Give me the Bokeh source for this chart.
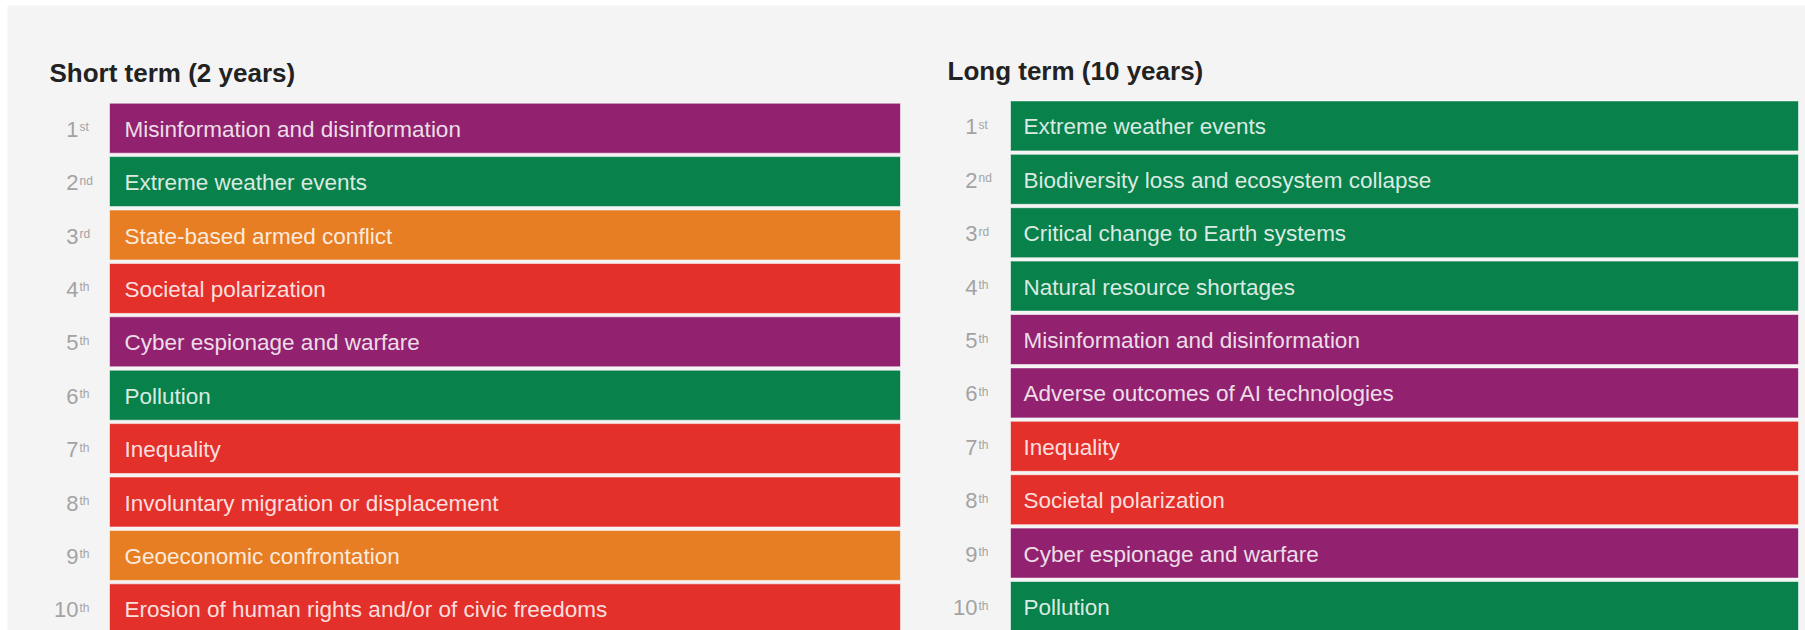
from bokeh.plotting import figure
from bokeh.layouts import row, column
from bokeh.models import Range1d, Label, ColumnDataSource, Spacer
from bokeh.core.properties import value
from bokeh.embed import file_html
from bokeh.resources import INLINE

# ---- data ----
ranks = [1, 2, 3, 4, 5, 6, 7, 8, 9, 10]
rank_suffixes = ["st", "nd", "rd", "th", "th", "th", "th", "th", "th", "th"]

short_term_title = "Short term (2 years)"
short_term_risks = [
    "Misinformation and disinformation",
    "Extreme weather events",
    "State-based armed conflict",
    "Societal polarization",
    "Cyber espionage and warfare",
    "Pollution",
    "Inequality",
    "Involuntary migration or displacement",
    "Geoeconomic confrontation",
    "Erosion of human rights and/or of civic freedoms",
]
short_term_categories = [
    "Technological", "Environmental", "Geopolitical", "Societal", "Technological",
    "Environmental", "Societal", "Societal", "Geopolitical", "Societal",
]

long_term_title = "Long term (10 years)"
long_term_risks = [
    "Extreme weather events",
    "Biodiversity loss and ecosystem collapse",
    "Critical change to Earth systems",
    "Natural resource shortages",
    "Misinformation and disinformation",
    "Adverse outcomes of AI technologies",
    "Inequality",
    "Societal polarization",
    "Cyber espionage and warfare",
    "Pollution",
]
long_term_categories = [
    "Environmental", "Environmental", "Environmental", "Environmental", "Technological",
    "Technological", "Societal", "Societal", "Technological", "Environmental",
]

category_colors = {
    "Technological": "#92226f",
    "Environmental": "#08814a",
    "Geopolitical": "#e77e24",
    "Societal": "#e4302b",
}

# ---- layout constants (pixels) ----
BG = "#f4f4f4"
WIDTH = 1798
HEIGHT = 625
PITCH = 53.4
BAR_H = 50.0
FONT = "Liberation Sans"

p = figure(width=WIDTH, height=HEIGHT, output_backend="svg", toolbar_location=None,
           min_border=0, min_border_left=0, min_border_right=0,
           min_border_top=0, min_border_bottom=0)
p.background_fill_color = BG
p.border_fill_color = BG
p.outline_line_color = None
p.axis.visible = False
p.grid.visible = False


def panel(name, title, risks, cats, bar_left, bar_width, center1, title_x, title_y,
          text_pad, num_gap):
    top = 1 - center1 / PITCH
    bottom = top + HEIGHT / PITCH
    xr = Range1d(-bar_left, WIDTH - bar_left)
    yr = Range1d(bottom, top)
    if name == "default":
        p.x_range = xr
        p.y_range = yr
        kw = {}
    else:
        p.extra_x_ranges[name] = xr
        p.extra_y_ranges[name] = yr
        kw = dict(x_range_name=name, y_range_name=name)

    src = ColumnDataSource(dict(
        rank=ranks,
        num=[str(r) for r in ranks],
        suffix=rank_suffixes,
        risk=risks,
        color=[category_colors[c] for c in cats],
    ))
    p.hbar(y="rank", left=0, right=bar_width, height=BAR_H / PITCH, source=src,
           fill_color="color", line_color="white", line_alpha=0.55, line_width=1, **kw)
    p.text(x=text_pad, y="rank", text="risk", source=src, text_baseline="middle",
           text_font=value(FONT), text_font_size="22.5px", text_color="white",
           text_alpha=0.86, y_offset=1, **kw)
    p.text(x=-num_gap, y="rank", text="num", source=src, text_align="right",
           text_baseline="middle", y_offset=1, text_font=value(FONT),
           text_font_size="22px", text_color="#a3a3a3", **kw)
    p.text(x=-num_gap + 1, y="rank", text="suffix", source=src, text_align="left",
           text_baseline="top", y_offset=-8, text_font=value(FONT),
           text_font_size="12px", text_color="#a3a3a3", **kw)
    p.add_layout(Label(x=title_x, y=HEIGHT - title_y, x_units="screen", y_units="screen",
                       text=title, text_font=FONT, text_font_size="26px",
                       text_font_style="bold", text_color="#222222",
                       text_baseline="alphabetic"))


panel("default", short_term_title, short_term_risks, short_term_categories,
      102, 791, 122.7, 42, 67, 15, 31)
panel("long", long_term_title, long_term_risks, long_term_categories,
      1003, 788, 120.4, 940, 65, 13, 33)

layout = column(Spacer(height=5), row(Spacer(width=7), p, spacing=0), spacing=0)
open("out.html", "w").write(file_html(layout, INLINE))
